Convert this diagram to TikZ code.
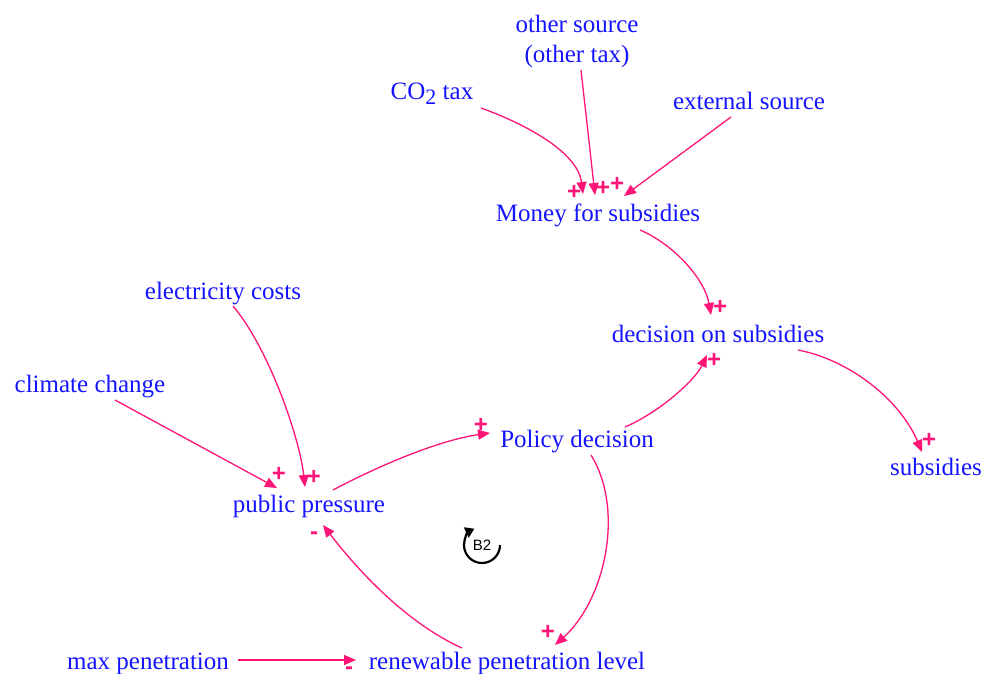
\documentclass[tikz,border=0pt]{standalone}
\usepackage{fontspec}
\setmainfont{Liberation Serif}
\newfontfamily\sansf{Liberation Sans}
\usetikzlibrary{arrows.meta}
\definecolor{lnk}{RGB}{255,20,120}
\definecolor{txt}{RGB}{20,20,255}
\begin{document}
\begin{tikzpicture}[x=1pt,y=-1pt,
  var/.style={text=txt, font=\fontsize{25}{30}\selectfont, inner sep=1pt, align=center},
  lk/.style={draw=lnk, line width=1.3pt, -{Triangle[length=12pt,width=10pt]}},
  sgn/.style={text=lnk, font=\sansf\bfseries\fontsize{24}{24}\selectfont, inner sep=0pt},
  loopsym/.style={draw=black, line width=2.2pt, -{Triangle[length=9pt,width=11pt]}},
]
\useasboundingbox (0,0) rectangle (990,673);

% variables
\node[var] (other) at (577,41) {other source\\(other tax)};
\node[var, anchor=base] (co2) at (432,99) {CO\raisebox{-5pt}{\fontsize{22}{22}\selectfont 2} tax};
\node[var, anchor=base] (ext) at (749,109) {external source};
\node[var, anchor=base] (money) at (598,221) {Money for subsidies};
\node[var, anchor=base] (elec) at (223,299) {electricity costs};
\node[var, anchor=base] (dec) at (718,342) {decision on subsidies};
\node[var, anchor=base] (clim) at (90,392) {climate change};
\node[var, anchor=base] (pol) at (577,447) {Policy decision};
\node[var, anchor=base] (subs) at (936,475) {subsidies};
\node[var, anchor=base] (pub) at (309,512) {public pressure};
\node[var, anchor=base] (max) at (148,669) {max penetration};
\node[var, anchor=base] (ren) at (507,669) {renewable penetration level};

% links
\draw[lk] ([shift={(49,9)}]co2.base) .. controls +(50,18) and +(-5,-40) .. ([shift={(-15,-27)}]money.base);
\draw[lk] ([shift={(4,29)}]other.center) -- ([shift={(-3,-26)}]money.base);
\draw[lk] ([shift={(-18,8)}]ext.base) -- ([shift={(26,-25)}]money.base);
\draw[lk] ([shift={(42,9)}]money.base) .. controls +(35,15) and +(-6,-35) .. ([shift={(-7,-27)}]dec.base);
\draw[lk] ([shift={(48,-20)}]pol.base) .. controls +(35,-15) and +(-12,25) .. ([shift={(-11,13)}]dec.base);
\draw[lk] ([shift={(80,8)}]dec.base) .. controls +(52,10) and +(-22,-52) .. ([shift={(-14,-23)}]subs.base);
\draw[lk] ([shift={(10,7)}]elec.base) .. controls +(37,44) and +(-5,-47) .. ([shift={(-4,-25)}]pub.base);
\draw[lk] ([shift={(25,8)}]clim.base) -- ([shift={(-32,-24)}]pub.base);
\draw[lk] ([shift={(24,-22)}]pub.base) .. controls +(47,-25) and +(-50,7) .. ([shift={(-87,-14)}]pol.base);
\draw[lk] ([shift={(14,8)}]pol.base) .. controls +(34,55) and +(50,-45) .. ([shift={(48,-24)}]ren.base);
\draw[lk] ([shift={(-45,-21)}]ren.base) .. controls +(-62,-28) and +(27,35) .. ([shift={(14,13)}]pub.base);
\draw[lk] ([shift={(90,-9)}]max.base) -- ([shift={(-151,-9)}]ren.base);

% polarity signs
\node[sgn] (s1) at (574,192) {+};
\node[sgn] (s2) at (603,188) {+};
\node[sgn] (s3) at (617,184) {+};
\node[sgn] (s4) at (720,307) {+};
\node[sgn] (s5) at (714,360) {+};
\node[sgn] (s6) at (929,440) {+};
\node[sgn] (s7) at (314,477) {+};
\node[sgn] (s8) at (279,474) {+};
\node[sgn] (s9) at (481,425) {+};
\node[sgn] (s10) at (548,632) {+};
\node[sgn] (s11) at (314,536) {-};
\node[sgn] (s12) at (349,671) {-};

% loop symbol
\node[font=\sansf\fontsize{15}{15}\selectfont, inner sep=0pt] (b2) at (482,545) {B2};
\draw[loopsym] ([shift={(18,0)}]b2.center) arc[start angle=0, end angle=245, radius=18];
\end{tikzpicture}
\end{document}
